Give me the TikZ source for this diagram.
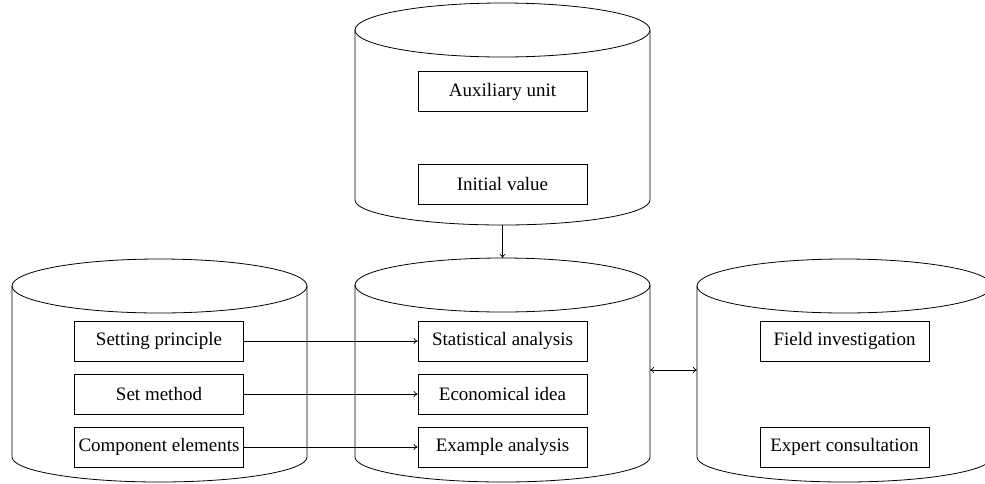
\documentclass[tikz,border=0pt]{standalone}
\usepackage{fontspec}
\setmainfont{Liberation Serif}
\usetikzlibrary{arrows.meta}
\newcommand\drawcyl[4]{%
  \draw[cylline] (#2+147.5,#3) ellipse [x radius=147.5, y radius=27];
  \draw[cylline] (#2,#3) -- (#2,#4) arc[start angle=180, end angle=0, x radius=147.5, y radius=25] -- (#2+295,#3);
  \coordinate (#1top) at (#2+147.5,#3-27);
  \coordinate (#1bot) at (#2+147.5,#4+25);
}
\begin{document}
\begin{tikzpicture}[x=1pt,y=-1pt,
  cylline/.style={line width=0.8pt},
  box/.style={draw, line width=0.8pt, minimum width=169pt, minimum height=40pt, inner sep=0pt, font=\fontsize{19}{21}\selectfont},
  conn/.style={line width=0.7pt, -{To[length=4pt,width=6pt]}},
  dconn/.style={line width=0.7pt, {To[length=4pt,width=6pt]}-{To[length=4pt,width=6pt]}}]
\useasboundingbox (0,0) rectangle (985,483);
% cylinders
\drawcyl{T}{355}{30}{200}
\drawcyl{L}{12}{286}{457}
\drawcyl{M}{355}{285}{457}
\drawcyl{R}{697}{286}{457}
\coordinate (Mside) at (650,370);
\coordinate (Rside) at (697,370);
% boxes
\node[box] (au) at (502.5,91.5) {Auxiliary unit};
\node[box] (iv) at (502.5,184) {Initial value};
\node[box] (sp) at (159,341) {Setting principle};
\node[box] (sm) at (159,394) {Set method};
\node[box] (ce) at (159,447) {Component elements};
\node[box] (sa) at (502.5,341) {Statistical analysis};
\node[box] (ei) at (502.5,394) {Economical idea};
\node[box] (ea) at (502.5,447) {Example analysis};
\node[box] (fi) at (844.5,341) {Field investigation};
\node[box] (ec) at (844.5,447) {Expert consultation};
% connectors
\draw[conn] (Tbot) -- (Mtop);
\draw[conn] (sp.east) -- (sa.west);
\draw[conn] (sm.east) -- (ei.west);
\draw[conn] (ce.east) -- (ea.west);
\draw[dconn] (Mside) -- (Rside);
\end{tikzpicture}
\end{document}
